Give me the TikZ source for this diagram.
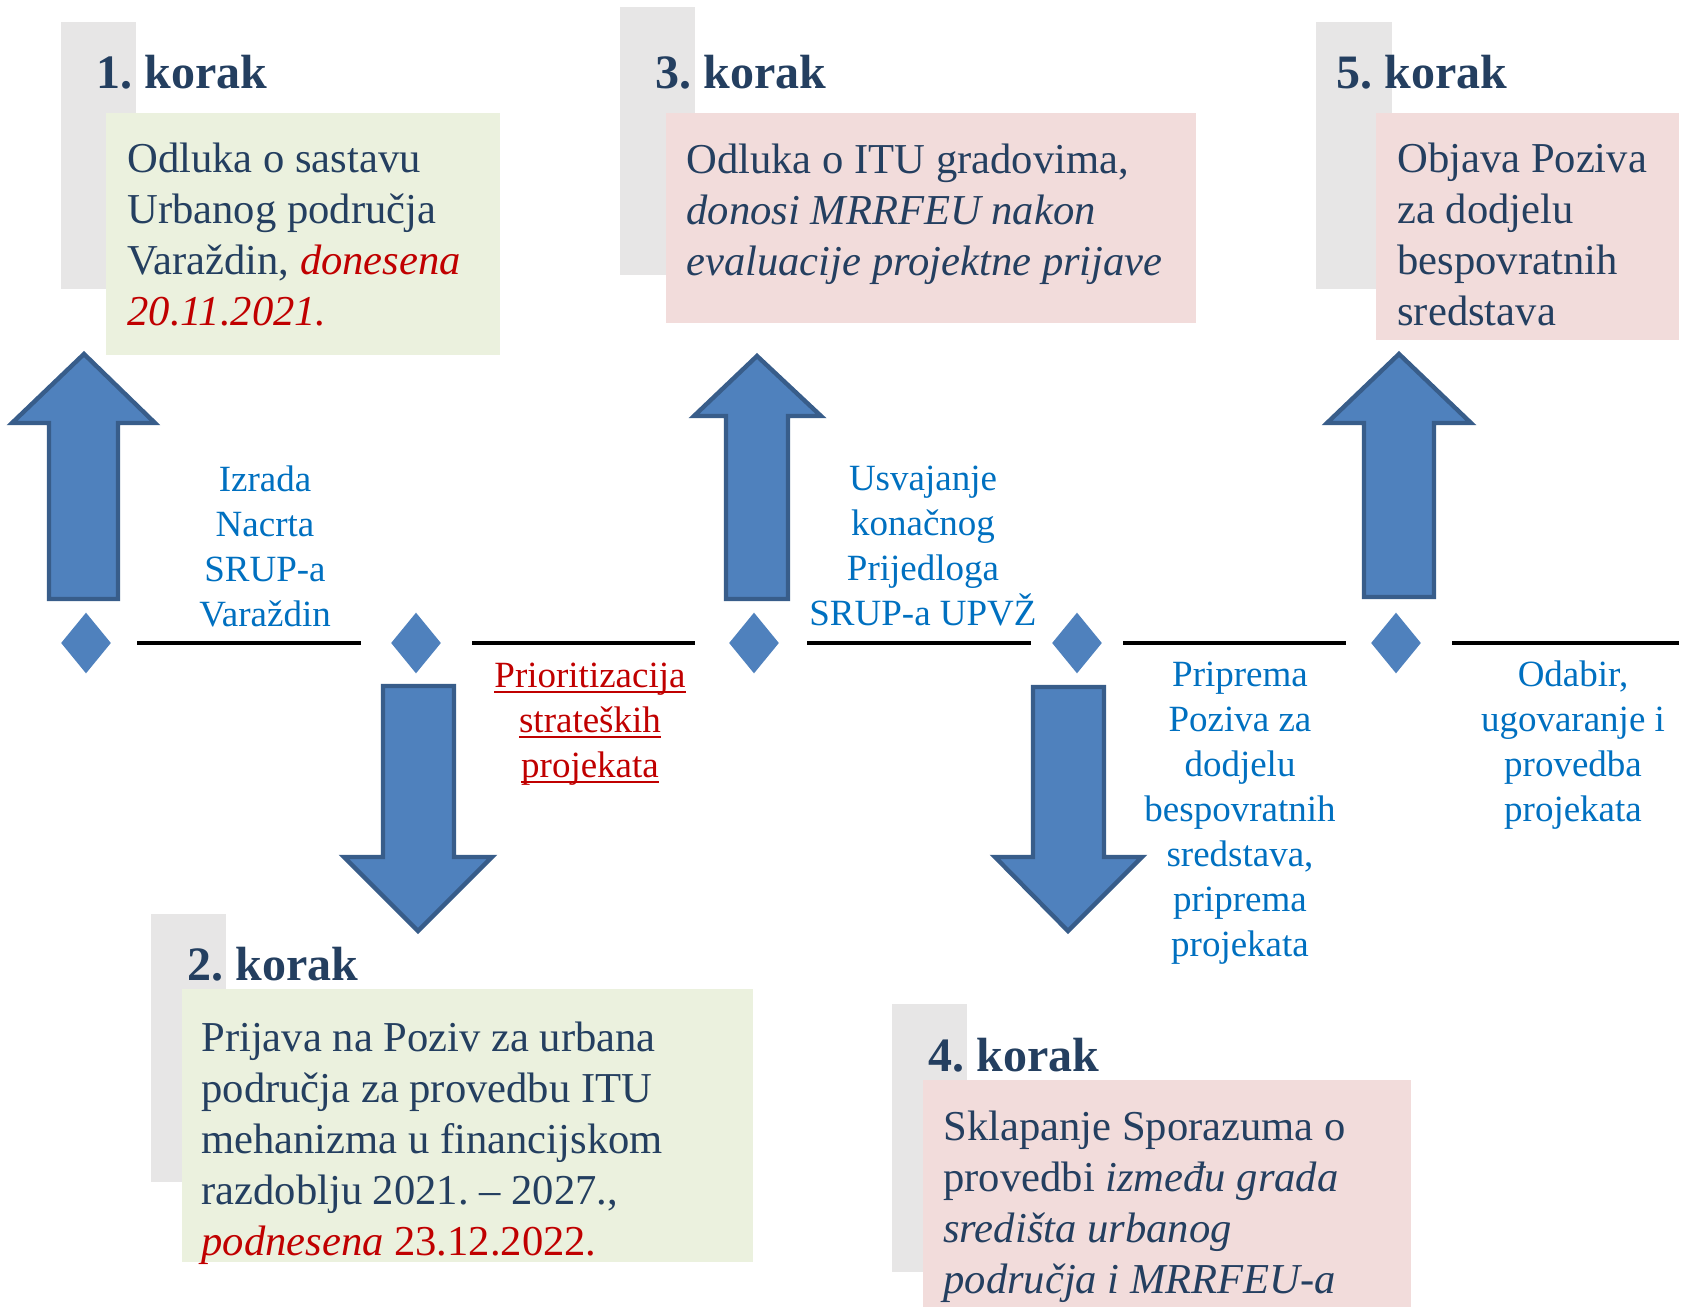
\documentclass[tikz,border=0pt]{standalone}
\usepackage{fontspec}
\setmainfont{Liberation Serif}
\usepackage{xcolor}
\usepackage{tikz}
\usetikzlibrary{shapes.geometric, fit, positioning}

\definecolor{stepgrey}{HTML}{E7E6E6}
\definecolor{stepgreen}{HTML}{EBF1DE}
\definecolor{steppink}{HTML}{F2DCDB}
\definecolor{stepnavy}{HTML}{243F60}
\definecolor{stepred}{HTML}{C00000}
\definecolor{stepblue}{HTML}{0070C0}
\definecolor{arrowfill}{HTML}{4F81BD}
\definecolor{arrowline}{HTML}{385D8A}

\newcommand{\ulword}[1]{\setbox0\hbox{#1}\rlap{\rule[-3pt]{\wd0}{1pt}}\box0}

\begin{document}
\frenchspacing
\begin{tikzpicture}[
    x=0.5pt, y=-0.5pt,
    greybox/.style={rectangle, fill=stepgrey, inner sep=0pt},
    greenbox/.style={rectangle, fill=stepgreen, inner sep=0pt},
    pinkbox/.style={rectangle, fill=steppink, inner sep=0pt},
    steptitle/.style={anchor=base west, inner sep=0pt, text=stepnavy, font=\fontsize{24}{29}\selectfont\bfseries},
    stepbody/.style={anchor=base west, inner sep=0pt, align=left, text=stepnavy, font=\fontsize{21.3}{25.5}\selectfont},
    phase/.style={anchor=base, inner sep=0pt, align=center, text=stepblue, font=\fontsize{18.5}{22.5}\selectfont},
    milestone/.style={diamond, fill=arrowfill, inner sep=0pt, minimum width=25pt, minimum height=30.5pt},
    timeline/.style={line width=1.6pt},
    blockarrow/.style={fill=arrowfill, draw=arrowline, line width=2.2pt, line join=miter}
]
\useasboundingbox (0,0) rectangle (1682,1312);

\node[greybox, fit={(61,22) (136,289)}] (g1) {};
\node[greybox, fit={(620,7) (695,275)}] (g3) {};
\node[greybox, fit={(1316,22) (1392,289)}] (g5) {};
\node[greybox, fit={(151,914) (226,1182)}] (g2) {};
\node[greybox, fit={(892,1004) (967,1272)}] (g4) {};

\node[greenbox, fit={(106,113) (500,355)}] (box1) {};
\node[pinkbox, fit={(666,113) (1196,323)}] (box3) {};
\node[pinkbox, fit={(1376,113) (1679,340)}] (box5) {};
\node[greenbox, fit={(182,989) (753,1262)}] (box2) {};
\node[pinkbox, fit={(923,1080) (1411,1307)}] (box4) {};

\node[steptitle] (title1) at (96,88) {1. korak};
\node[steptitle] (title3) at (655,88) {3. korak};
\node[steptitle] (title5) at (1336,88) {5. korak};
\node[steptitle] (title2) at (187,980) {2. korak};
\node[steptitle] (title4) at (928,1071) {4. korak};

\node[stepbody] (text1) at (127,325) {Odluka o sastavu\\Urbanog područja\\Varaždin, \textcolor{stepred}{\textit{donesena}}\\\textcolor{stepred}{\textit{20.11.2021.}}};
\node[stepbody] (text3) at (686,275) {Odluka o ITU gradovima,\\\textit{donosi MRRFEU nakon}\\\textit{evaluacije projektne prijave}};
\node[stepbody] (text5) at (1397,325) {Objava Poziva\\za dodjelu\\bespovratnih\\sredstava};
\node[stepbody] (text2) at (201,1255) {Prijava na Poziv za urbana\\područja za provedbu ITU\\mehanizma u financijskom\\razdoblju 2021. – 2027.,\\\textcolor{stepred}{\textit{podnesena} 23.12.2022.}};
\node[stepbody] (text4) at (943,1293) {Sklapanje Sporazuma o\\provedbi \textit{između grada}\\\textit{središta urbanog}\\\textit{područja i MRRFEU-a}};

\node[milestone] (d1) at (86,643) {};
\node[milestone] (d2) at (416,643) {};
\node[milestone] (d3) at (754,643) {};
\node[milestone] (d4) at (1077,643) {};
\node[milestone] (d5) at (1396,643) {};
\coordinate (tlend) at (1679,643);

\draw[timeline, shorten <=13pt, shorten >=15pt] (d1) -- (d2);
\draw[timeline, shorten <=15.5pt, shorten >=17pt] (d2) -- (d3);
\draw[timeline, shorten <=14pt, shorten >=10.5pt] (d3) -- (d4);
\draw[timeline, shorten <=10.5pt, shorten >=12.5pt] (d4) -- (d5);
\draw[timeline, shorten <=15.5pt] (d5) -- (tlend);

\draw[blockarrow] (49,599) -- (49,423) -- (12,423) -- (84,354) -- (155,423) -- (118,423) -- (118,599) -- cycle;
\draw[blockarrow] (726,599) -- (726,416) -- (694,416) -- (757,356) -- (821,416) -- (788,416) -- (788,599) -- cycle;
\draw[blockarrow] (1364,597) -- (1364,423) -- (1327,423) -- (1399,354) -- (1471,423) -- (1434,423) -- (1434,597) -- cycle;
\draw[blockarrow] (383,686) -- (383,857) -- (344,857) -- (418,931) -- (492,857) -- (454,857) -- (454,686) -- cycle;
\draw[blockarrow] (1033,687) -- (1033,857) -- (995,857) -- (1068,931) -- (1142,857) -- (1104,857) -- (1104,687) -- cycle;

\node[phase] (ph1) at (265,626) {Izrada\\Nacrta\\SRUP-a\\Varaždin};
\node[phase, text=stepred] (ph2) at (590,777) {\ulword{Prioritizacija}\\\ulword{strateških}\\\ulword{projekata}};
\node[phase] (ph3) at (923,625) {Usvajanje\\konačnog\\Prijedloga\\SRUP-a UPVŽ};
\node[phase] (ph4) at (1240,956) {Priprema\\Poziva za\\dodjelu\\bespovratnih\\sredstava,\\priprema\\projekata};
\node[phase] (ph5) at (1573,821) {Odabir,\\ugovaranje i\\provedba\\projekata};

\end{tikzpicture}
\end{document}
